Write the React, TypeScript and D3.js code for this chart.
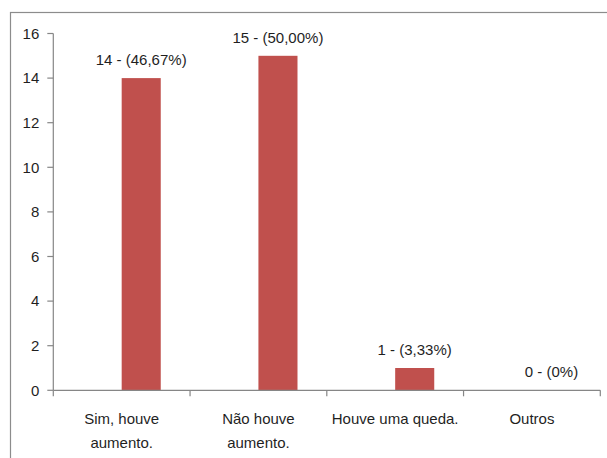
import React from "react";
import * as d3 from "d3";

// Survey answers and counts
const categories: string[][] = [
  ["Sim, houve", "aumento."],
  ["Não houve", "aumento."],
  ["Houve uma queda."],
  ["Outros"],
];
const counts: number[] = [14, 15, 1, 0];
const percentLabels: string[] = ["46,67%", "50,00%", "3,33%", "0%"];
const yTicks: number[] = [0, 2, 4, 6, 8, 10, 12, 14, 16];
// Clustered layout: an empty first series leaves the drawn bar right of centre
const seriesKeys: string[] = ["vazio", "respostas"];

const W = 607;
const H = 458;
const axisColor = "#868686";
const barColor = "#C0504D";
const textColor = "#1f1f1f";
const font = "'Liberation Sans', Arial, sans-serif";

export default function App() {
  const left = 53.3;
  const right = 600.3;
  const zeroY = 390.3;
  const topY = 33.5;

  const x = d3
    .scaleBand<number>()
    .domain(d3.range(categories.length))
    .range([left, right])
    .padding(0);

  const xSub = d3
    .scaleBand<string>()
    .domain(seriesKeys)
    .range([0, x.bandwidth()])
    .paddingInner(0)
    .paddingOuter(0.75);

  const y = d3.scaleLinear().domain([0, 16]).range([zeroY, topY]);

  return (
    <div style={{ position: "fixed", left: 0, top: 0, width: W, height: H, background: "#fff" }}>
      <svg width={W} height={H} style={{ display: "block" }}>
        <rect x={0} y={0} width={W} height={H} fill="#fff" />
        {/* chart frame */}
        <rect
          x={10.5}
          y={12.5}
          width={800}
          height={800}
          fill="none"
          stroke="#8c8c8c"
          strokeWidth={1.2}
        />

        {/* bars */}
        {counts.map((v, i) => {
          const bx = (x(i) as number) + (xSub("respostas") as number);
          const bw = xSub.bandwidth();
          return (
            <g key={i}>
              {v > 0 && (
                <rect x={bx} y={y(v)} width={bw} height={zeroY - y(v)} fill={barColor} />
              )}
              <text
                x={bx + bw / 2}
                y={y(v) - 13}
                textAnchor="middle"
                fontFamily={font}
                fontSize={15}
                fill={textColor}
              >
                {`${v} - (${percentLabels[i]})`}
              </text>
            </g>
          );
        })}

        {/* y axis */}
        <line x1={left} x2={left} y1={y(16)} y2={zeroY} stroke={axisColor} strokeWidth={1.2} />
        {yTicks.map((t) => (
          <g key={t}>
            <line x1={left - 6} x2={left} y1={y(t)} y2={y(t)} stroke={axisColor} strokeWidth={1.2} />
            <text
              x={left - 14}
              y={y(t)}
              dy="0.35em"
              textAnchor="end"
              fontFamily={font}
              fontSize={15}
              fill={textColor}
            >
              {t}
            </text>
          </g>
        ))}

        {/* x axis */}
        <line x1={left} x2={right} y1={zeroY} y2={zeroY} stroke={axisColor} strokeWidth={1.2} />
        {d3.range(categories.length + 1).map((i) => {
          const tx = i < categories.length ? (x(i) as number) : right;
          return (
            <line
              key={i}
              x1={tx}
              x2={tx}
              y1={zeroY}
              y2={zeroY + 6}
              stroke={axisColor}
              strokeWidth={1.2}
            />
          );
        })}
        {categories.map((lines, i) => (
          <text
            key={i}
            textAnchor="middle"
            fontFamily={font}
            fontSize={15}
            fill={textColor}
          >
            {lines.map((ln, j) => (
              <tspan key={j} x={(x(i) as number) + x.bandwidth() / 2} y={424 + j * 24}>
                {ln}
              </tspan>
            ))}
          </text>
        ))}
      </svg>
    </div>
  );
}
